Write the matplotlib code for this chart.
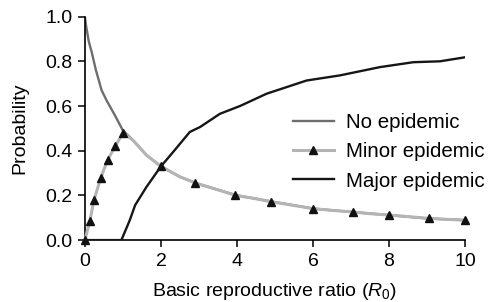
import matplotlib
matplotlib.use("Agg")
import matplotlib.pyplot as plt

plt.rcParams['font.family'] = ['Liberation Sans', 'DejaVu Sans']
plt.rcParams['mathtext.fontset'] = 'custom'
plt.rcParams['mathtext.it'] = 'Liberation Sans:italic'
plt.rcParams['mathtext.rm'] = 'Liberation Sans'

# values
no_epi_r0 = [0, 0.03, 0.06, 0.1, 0.18, 0.29, 0.44, 0.57, 0.79, 1.0,
             1.27, 1.62, 2.0, 2.5, 3.0, 4.0, 5.0, 6.0, 7.0, 8.0, 9.0, 10.0]
no_epi_p = [1.0, 0.96, 0.93, 0.89, 0.84, 0.76, 0.67, 0.625, 0.558, 0.49,
            0.446, 0.38, 0.33, 0.283, 0.25, 0.20, 0.17, 0.141, 0.126, 0.112, 0.097, 0.089]

minor_r0 = [0, 0.13, 0.24, 0.42, 0.6, 0.8, 1.0, 1.27, 1.62, 2.0, 2.5, 2.9,
            3.5, 3.96, 4.5, 4.9, 5.5, 6.0, 6.5, 7.05, 7.5, 8.0, 8.5, 9.05, 9.5, 10.0]
minor_p = [0, 0.086, 0.18, 0.28, 0.36, 0.42, 0.48, 0.446, 0.38, 0.33, 0.283, 0.256,
           0.225, 0.20, 0.185, 0.171, 0.155, 0.141, 0.133, 0.126, 0.118, 0.112, 0.105, 0.097, 0.093, 0.089]
minor_marks = [0, 1, 2, 3, 4, 5, 6, 9, 11, 13, 15, 17, 19, 21, 23, 25]

major_r0 = [0, 0.96, 1.18, 1.32, 1.62, 2.0, 2.32, 2.76, 3.03, 3.55, 4.08,
            4.78, 5.83, 6.71, 7.76, 8.64, 9.34, 10.0]
major_p = [0, 0, 0.089, 0.156, 0.238, 0.33, 0.394, 0.484, 0.506, 0.565, 0.60,
           0.655, 0.714, 0.737, 0.774, 0.796, 0.80, 0.818]

fig = plt.figure(figsize=(4.88, 3.02), dpi=100)
ax = fig.add_axes([0.174, 0.205, 0.779, 0.74])

ax.plot(no_epi_r0, no_epi_p, color='#6e6e6e', lw=1.7, label='No epidemic', zorder=2)
ax.plot(minor_r0, minor_p, color='#b4b4b4', lw=2.2, marker='^', markevery=minor_marks,
        markersize=6.2, markerfacecolor='#111111', markeredgecolor='#111111',
        label='Minor epidemic', clip_on=False, zorder=3)
ax.plot(major_r0, major_p, color='#161616', lw=1.7, label='Major epidemic', zorder=4)

ax.set_xlim(0, 10)
ax.set_ylim(0, 1)
ax.set_xticks([0, 2, 4, 6, 8, 10])
ax.set_yticks([0, 0.2, 0.4, 0.6, 0.8, 1.0])
ax.set_yticklabels(['0.0', '0.2', '0.4', '0.6', '0.8', '1.0'])
ax.tick_params(labelsize=14, length=5, width=1.1, direction='out', pad=4)
for s in ['top', 'right']:
    ax.spines[s].set_visible(False)
for s in ['left', 'bottom']:
    ax.spines[s].set_linewidth(1.2)

ax.set_xlabel('Basic reproductive ratio ($\\mathit{R_0}$)', fontsize=14, labelpad=8)
ax.set_ylabel('Probability', fontsize=14, labelpad=12)

ax.legend(loc='center left', bbox_to_anchor=(0.600, 0.497), bbox_transform=fig.transFigure,
          frameon=False, fontsize=14.8, handlelength=2.0, handletextpad=0.6,
          labelspacing=0.5, borderpad=0, borderaxespad=0)

fig.savefig('out.png', dpi=100)
